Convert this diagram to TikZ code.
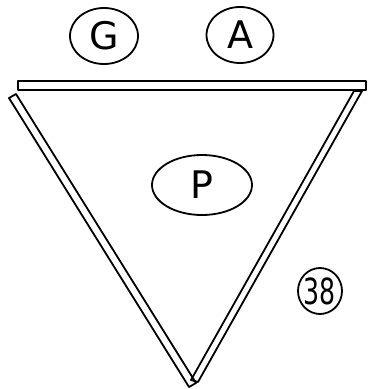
\documentclass[tikz,border=0pt]{standalone}
\usepackage{fontspec}
\setmainfont{DejaVu Sans}
\usetikzlibrary{shapes.geometric}
\begin{document}
\begin{tikzpicture}[x=1pt,y=-1pt,
  oval/.style={ellipse,draw,line width=1.8pt,inner sep=0pt,font=\fontsize{38}{38}\selectfont},
  strip/.style={draw=black,line width=1.8pt,line join=round}]
\useasboundingbox (0,0) rectangle (370,389);
\node[oval,minimum width=68pt,minimum height=56pt] (G) at (104,36) {G};
\node[oval,minimum width=67pt,minimum height=56pt] (A) at (240,35) {A};
\node[oval,minimum width=100pt,minimum height=60pt] (P) at (202,185) {P};
\node[inner sep=0pt,font=\fontsize{36}{36}\selectfont] (N) at (320,291) {\scalebox{0.7}[1]{38}};
\draw[line width=1.8pt] (N.center) ellipse [x radius=22pt, y radius=23pt];
% top bar
\draw[strip] (18,81) rectangle (366,90);
% left side
\coordinate (la) at (9,98);
\coordinate (lb) at (16,94);
\coordinate (lc) at (196,383);
\coordinate (ld) at (189,387);
\draw[strip] (la) -- (lb) -- (lc) -- (ld) -- cycle;
% right side
\coordinate (ra) at (354,91);
\coordinate (rb) at (362,91);
\coordinate (rc) at (198,382);
\coordinate (rd) at (191,380);
\draw[strip] (ra) -- (rb) -- (rc) -- (rd) -- cycle;
\end{tikzpicture}
\end{document}
